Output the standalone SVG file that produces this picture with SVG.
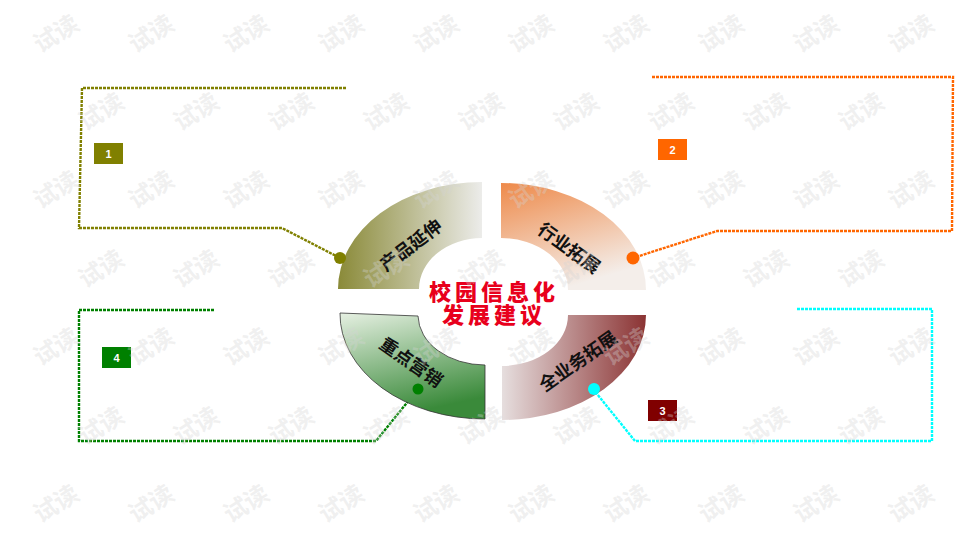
<svg xmlns="http://www.w3.org/2000/svg" width="960" height="540" viewBox="0 0 960 540">
<style>
.seg-label{font-family:"Noto Sans CJK SC","Noto Sans",sans-serif;font-weight:bold;font-size:18px;fill:#111;text-anchor:middle;dominant-baseline:central}
.title{font-family:"Noto Sans CJK SC","Noto Sans",sans-serif;font-weight:900;font-size:22px;fill:#e8001c;text-anchor:middle;letter-spacing:4px}
.badge-t{font-family:"Liberation Sans",Arial,sans-serif;font-weight:bold;font-size:11px;fill:#fff;text-anchor:middle;dominant-baseline:central}
.conn{fill:none;stroke-width:2.4;stroke-dasharray:3 1;stroke-linejoin:miter}
.wm{font-family:"Noto Sans CJK SC",sans-serif;font-weight:bold;font-size:24px;fill:#d4d4d4;fill-opacity:0.35;text-anchor:middle;dominant-baseline:central}
</style>
<defs>
<linearGradient id="gOlive" x1="0" y1="0" x2="1" y2="0">
<stop offset="0" stop-color="#8a8a38"/>
<stop offset="1" stop-color="#ececea"/>
</linearGradient>
<linearGradient id="gOrange" x1="0" y1="0" x2="0.4" y2="1">
<stop offset="0" stop-color="#ee8a4a"/>
<stop offset="1" stop-color="#f4eeea"/>
</linearGradient>
<linearGradient id="gBrown" x1="0" y1="0" x2="1" y2="0">
<stop offset="0" stop-color="#e6dede"/>
<stop offset="1" stop-color="#8b3333"/>
</linearGradient>
<linearGradient id="gGreen" x1="0" y1="0" x2="0.3" y2="1">
<stop offset="0" stop-color="#e6f0e2"/>
<stop offset="1" stop-color="#3a8a3a"/>
</linearGradient>
</defs>
<rect width="960" height="540" fill="#ffffff"/>

<g id="connectors">
<path class="conn" stroke="#808000" d="M346,88 L82,88 L79,228 L282,228 L340,258"/>
<path class="conn" stroke="#ff6600" d="M652,77 L953,77 L952,231 L717,231 L633,258"/>
<path class="conn" stroke="#00ffff" d="M797,309 L932,309 L932,441 L635,441 L593,389"/>
<path class="conn" stroke="#008000" d="M214,310 L79,310 L79,441 L376,441 L418,389"/>
</g>

<g id="seg-product">
<path d="M338,289 A144,107 0 0 1 482,182 L482,238 A63,51 0 0 0 419,289 Z" fill="url(#gOlive)"/>
<text class="seg-label" transform="translate(410 244) rotate(-37)">产品延伸</text>
<circle cx="340" cy="258" r="6" fill="#808000"/>
</g>
<g id="seg-industry">
<path d="M501,183 A145,107 0 0 1 646,290 L568,290 A67,52 0 0 0 501,238 Z" fill="url(#gOrange)"/>
<text class="seg-label" transform="translate(570 247) rotate(36)">行业拓展</text>
<circle cx="633" cy="258" r="6.5" fill="#ff6600"/>
</g>
<g id="seg-allbiz">
<path d="M568,315 L646,315 A144,105 0 0 1 502,420 L502,366 A66,51 0 0 0 568,315 Z" fill="url(#gBrown)"/>
<text class="seg-label" transform="translate(577 360) rotate(-35)">全业务拓展</text>
<circle cx="594" cy="389" r="6" fill="#00ffff"/>
</g>
<g id="seg-marketing">
<path d="M340,313 L418,316 A67,50 0 0 0 485,365 L485,419 A145,105 0 0 1 340,313 Z" fill="url(#gGreen)" stroke="#333" stroke-width="0.8"/>
<text class="seg-label" transform="translate(412 361) rotate(35)">重点营销</text>
<circle cx="418" cy="389" r="5.5" fill="#008000"/>
</g>

<g id="center-title">
<text class="title" x="494" y="300">校园信息化</text>
<text class="title" x="494" y="323">发展建议</text>
</g>

<g id="badge-1">
<rect x="94" y="143" width="29" height="21" fill="#808000"/>
<text class="badge-t" x="108.5" y="154">1</text>
</g>
<g id="badge-2">
<rect x="658" y="139" width="29" height="21" fill="#ff6600"/>
<text class="badge-t" x="672.5" y="150">2</text>
</g>
<g id="badge-3">
<rect x="648" y="400" width="29" height="21" fill="#800000"/>
<text class="badge-t" x="662.5" y="411">3</text>
</g>
<g id="badge-4">
<rect x="102" y="347" width="29" height="21" fill="#008000"/>
<text class="badge-t" x="116.5" y="358">4</text>
</g>

<g id="watermark">
<text class="wm" transform="translate(55 32) rotate(-32)">试读</text>
<text class="wm" transform="translate(150 32) rotate(-32)">试读</text>
<text class="wm" transform="translate(245 32) rotate(-32)">试读</text>
<text class="wm" transform="translate(340 32) rotate(-32)">试读</text>
<text class="wm" transform="translate(435 32) rotate(-32)">试读</text>
<text class="wm" transform="translate(530 32) rotate(-32)">试读</text>
<text class="wm" transform="translate(625 32) rotate(-32)">试读</text>
<text class="wm" transform="translate(720 32) rotate(-32)">试读</text>
<text class="wm" transform="translate(815 32) rotate(-32)">试读</text>
<text class="wm" transform="translate(910 32) rotate(-32)">试读</text>
<text class="wm" transform="translate(100 110) rotate(-32)">试读</text>
<text class="wm" transform="translate(195 110) rotate(-32)">试读</text>
<text class="wm" transform="translate(290 110) rotate(-32)">试读</text>
<text class="wm" transform="translate(385 110) rotate(-32)">试读</text>
<text class="wm" transform="translate(480 110) rotate(-32)">试读</text>
<text class="wm" transform="translate(575 110) rotate(-32)">试读</text>
<text class="wm" transform="translate(670 110) rotate(-32)">试读</text>
<text class="wm" transform="translate(765 110) rotate(-32)">试读</text>
<text class="wm" transform="translate(860 110) rotate(-32)">试读</text>
<text class="wm" transform="translate(55 188) rotate(-32)">试读</text>
<text class="wm" transform="translate(150 188) rotate(-32)">试读</text>
<text class="wm" transform="translate(245 188) rotate(-32)">试读</text>
<text class="wm" transform="translate(340 188) rotate(-32)">试读</text>
<text class="wm" transform="translate(435 188) rotate(-32)">试读</text>
<text class="wm" transform="translate(530 188) rotate(-32)">试读</text>
<text class="wm" transform="translate(625 188) rotate(-32)">试读</text>
<text class="wm" transform="translate(720 188) rotate(-32)">试读</text>
<text class="wm" transform="translate(815 188) rotate(-32)">试读</text>
<text class="wm" transform="translate(910 188) rotate(-32)">试读</text>
<text class="wm" transform="translate(100 267) rotate(-32)">试读</text>
<text class="wm" transform="translate(195 267) rotate(-32)">试读</text>
<text class="wm" transform="translate(290 267) rotate(-32)">试读</text>
<text class="wm" transform="translate(385 267) rotate(-32)">试读</text>
<text class="wm" transform="translate(480 267) rotate(-32)">试读</text>
<text class="wm" transform="translate(575 267) rotate(-32)">试读</text>
<text class="wm" transform="translate(670 267) rotate(-32)">试读</text>
<text class="wm" transform="translate(765 267) rotate(-32)">试读</text>
<text class="wm" transform="translate(860 267) rotate(-32)">试读</text>
<text class="wm" transform="translate(55 345) rotate(-32)">试读</text>
<text class="wm" transform="translate(150 345) rotate(-32)">试读</text>
<text class="wm" transform="translate(245 345) rotate(-32)">试读</text>
<text class="wm" transform="translate(340 345) rotate(-32)">试读</text>
<text class="wm" transform="translate(435 345) rotate(-32)">试读</text>
<text class="wm" transform="translate(530 345) rotate(-32)">试读</text>
<text class="wm" transform="translate(625 345) rotate(-32)">试读</text>
<text class="wm" transform="translate(720 345) rotate(-32)">试读</text>
<text class="wm" transform="translate(815 345) rotate(-32)">试读</text>
<text class="wm" transform="translate(910 345) rotate(-32)">试读</text>
<text class="wm" transform="translate(100 424) rotate(-32)">试读</text>
<text class="wm" transform="translate(195 424) rotate(-32)">试读</text>
<text class="wm" transform="translate(290 424) rotate(-32)">试读</text>
<text class="wm" transform="translate(385 424) rotate(-32)">试读</text>
<text class="wm" transform="translate(480 424) rotate(-32)">试读</text>
<text class="wm" transform="translate(575 424) rotate(-32)">试读</text>
<text class="wm" transform="translate(670 424) rotate(-32)">试读</text>
<text class="wm" transform="translate(765 424) rotate(-32)">试读</text>
<text class="wm" transform="translate(860 424) rotate(-32)">试读</text>
<text class="wm" transform="translate(55 502) rotate(-32)">试读</text>
<text class="wm" transform="translate(150 502) rotate(-32)">试读</text>
<text class="wm" transform="translate(245 502) rotate(-32)">试读</text>
<text class="wm" transform="translate(340 502) rotate(-32)">试读</text>
<text class="wm" transform="translate(435 502) rotate(-32)">试读</text>
<text class="wm" transform="translate(530 502) rotate(-32)">试读</text>
<text class="wm" transform="translate(625 502) rotate(-32)">试读</text>
<text class="wm" transform="translate(720 502) rotate(-32)">试读</text>
<text class="wm" transform="translate(815 502) rotate(-32)">试读</text>
<text class="wm" transform="translate(910 502) rotate(-32)">试读</text>
</g>
</svg>
